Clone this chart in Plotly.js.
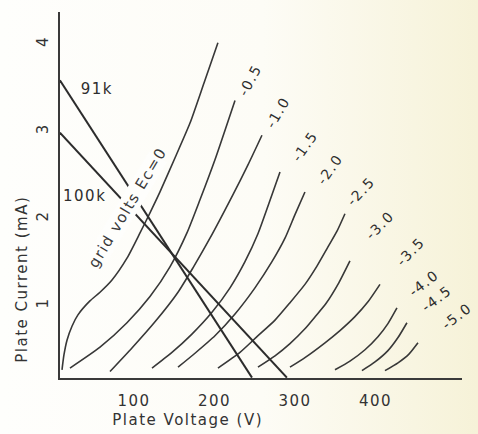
<!DOCTYPE html>
<html><head><meta charset="utf-8">
<script src="https://cdn.plot.ly/plotly-3.0.1.min.js"></script>
<style>
html,body{margin:0;padding:0;}
body{width:478px;height:434px;overflow:hidden;background:linear-gradient(90deg,#fefefc 0%,#fdfcf6 55%,#f6f2d8 100%);}
#chart text{letter-spacing:1.5px;}
</style></head><body><div id="chart"></div>
<script>
// Plate characteristic family (plate volts V, plate current mA)
const gridVolts = ['0', '-0.5', '-1.0', '-1.5', '-2.0', '-2.5', '-3.0', '-3.5', '-4.0', '-4.5', '-5.0'];

const v_ec0  = [10.6, 13, 16.8, 23, 30.4, 45.3, 57.8, 72.7, 91.3, 107.5, 119.9, 132.3, 150.9, 169.6, 187, 204.3];
const i_ec0  = [0.26, 0.43, 0.60, 0.76, 0.89, 1.05, 1.15, 1.29, 1.54, 1.83, 2.06, 2.30, 2.69, 3.09, 3.55, 4.01];
const v_m05  = [20.5, 57.8, 91.3, 119.9, 144.7, 165.8, 182, 200.6, 225.5];
const i_m05  = [0.28, 0.52, 0.80, 1.10, 1.44, 1.83, 2.21, 2.67, 3.35];
const v_m10  = [70.2, 97.5, 126.1, 154.7, 173.3, 194.4, 223, 241.6, 259];
const i_m10  = [0.24, 0.51, 0.81, 1.15, 1.43, 1.77, 2.27, 2.61, 2.95];
const v_m15  = [122.4, 147.2, 172, 196.9, 219.3, 237.9, 254, 267.7, 281.4];
const i_m15  = [0.28, 0.46, 0.67, 0.92, 1.20, 1.50, 1.82, 2.17, 2.53];
const v_m20  = [154.7, 175.8, 200.6, 225.5, 250.3, 271.4, 287.6, 300, 312.4];
const i_m20  = [0.29, 0.45, 0.65, 0.90, 1.20, 1.50, 1.77, 2.04, 2.30];
const v_m25  = [204.3, 231.7, 252.8, 275.2, 293.8, 312.4, 327.3, 341, 352.2, 362.1];
const i_m25  = [0.28, 0.46, 0.64, 0.83, 1.03, 1.24, 1.45, 1.67, 1.85, 2.05];
const v_m30  = [254, 275.2, 293.8, 312.4, 326.1, 338.5, 353.4, 368.3];
const i_m30  = [0.29, 0.42, 0.56, 0.73, 0.88, 1.02, 1.24, 1.51];
const v_m35  = [293.8, 312.4, 337.3, 355.9, 374.5, 390.7, 405.6];
const i_m35  = [0.29, 0.40, 0.57, 0.71, 0.87, 1.04, 1.24];
const v_m40  = [349.7, 368.3, 387, 403.1, 415.5, 426.7];
const i_m40  = [0.26, 0.36, 0.49, 0.64, 0.79, 0.97];
const v_m45  = [383.2, 399.4, 415.5, 428, 439.1];
const i_m45  = [0.25, 0.35, 0.48, 0.63, 0.80];
const v_m50  = [411.8, 428, 441.6, 452.8];
const i_m50  = [0.25, 0.34, 0.44, 0.57];

// Load lines
const loadNames = ['91k', '100k'];
const v_91k  = [8, 246.6];
const i_91k  = [3.58, 0.17];
const v_100k = [8, 290];
const i_100k = [2.98, 0.17];

// Axis ticks
const xTickVals = [100, 200, 300, 400];
const xTickText = ['100', '200', '300', '400'];
const yTickVals = [1, 2, 3, 4];
const yTickText = ['1', '2', '3', '4'];

const curveV = [v_ec0, v_m05, v_m10, v_m15, v_m20, v_m25, v_m30, v_m35, v_m40, v_m45, v_m50];
const curveI = [i_ec0, i_m05, i_m10, i_m15, i_m20, i_m25, i_m30, i_m35, i_m40, i_m45, i_m50];

const ink = '#383838';
const traces = curveV.map((v, k) => ({
  x: v, y: curveI[k], type: 'scatter', mode: 'lines', name: gridVolts[k],
  line: {color: ink, width: 1.6, shape: 'spline', smoothing: 0.6},
  hoverinfo: 'x+y+name'
}));
traces.push({x: v_91k, y: i_91k, type: 'scatter', mode: 'lines', name: loadNames[0],
  line: {color: '#2c2c2c', width: 2}});
traces.push({x: v_100k, y: i_100k, type: 'scatter', mode: 'lines', name: loadNames[1],
  line: {color: '#2c2c2c', width: 2}});

// label placement (V, mA, angle)
const labelPlace = [
  null,
  [244.1, 3.584, -62], [278.9, 3.216, -60], [312.4, 2.827, -55], [343.5, 2.563, -55],
  [382.0, 2.311, -47], [405.6, 1.921, -45], [442.9, 1.611, -46], [460.2, 1.256, -38],
  [475.2, 1.072, -37], [501.2, 0.877, -38]
];
const font = 'DejaVu Sans';
const annotations = [];
const ann = (o) => annotations.push(Object.assign({showarrow: false, xanchor: 'center', yanchor: 'middle'}, o));
gridVolts.forEach((g, k) => {
  if (!labelPlace[k]) return;
  const p = labelPlace[k];
  ann({x: p[0], y: p[1], xref: 'x', yref: 'y', text: g,
    textangle: p[2], font: {family: font, size: 14, color: '#2e2e2e'}});
});
ann({x: 54, y: 3.48, xref: 'x', yref: 'y', text: loadNames[0],
  font: {family: font, size: 15, color: '#2e2e2e'}});
ann({x: 39.1, y: 2.253, xref: 'x', yref: 'y', text: loadNames[1],
  font: {family: font, size: 15, color: '#2e2e2e'}});
ann({x: 92.5, y: 2.127, xref: 'x', yref: 'y', text: 'grid volts Ec=' + gridVolts[0],
  textangle: -59, bgcolor: '#fefefc', borderpad: 1,
  font: {family: font, size: 15, color: '#3a3a3a'}});
ann({x: 0.318, y: -0.115, xref: 'paper', yref: 'paper', text: 'Plate Voltage (V)',
  font: {family: font, size: 15, color: '#333'}});
ann({x: -0.0945, y: 0.27, xref: 'paper', yref: 'paper', text: 'Plate Current (mA)',
  textangle: -90, font: {family: font, size: 15, color: '#333'}});

const layout = {
  width: 478, height: 434,
  margin: {l: 60, r: 16, t: 12, b: 56},
  paper_bgcolor: 'rgba(0,0,0,0)', plot_bgcolor: 'rgba(0,0,0,0)',
  showlegend: false,
  xaxis: {range: [8.1, 507.5], tickvals: xTickVals, ticktext: xTickText, showgrid: false,
    zeroline: false, showline: true, linecolor: '#3a3a3a', linewidth: 2, ticks: '',
    ticklabelstandoff: 8, tickfont: {family: font, size: 15, color: '#333'}},
  yaxis: {range: [0.166, 4.364], tickvals: yTickVals, ticktext: yTickText, showgrid: false,
    zeroline: false, showline: true, linecolor: '#3a3a3a', linewidth: 2, ticks: '',
    tickangle: -90, ticklabelstandoff: 4, tickfont: {family: font, size: 15, color: '#333'}},
  annotations: annotations
};
Plotly.newPlot('chart', traces, layout, {displayModeBar: false, staticPlot: true});
</script></body></html>
